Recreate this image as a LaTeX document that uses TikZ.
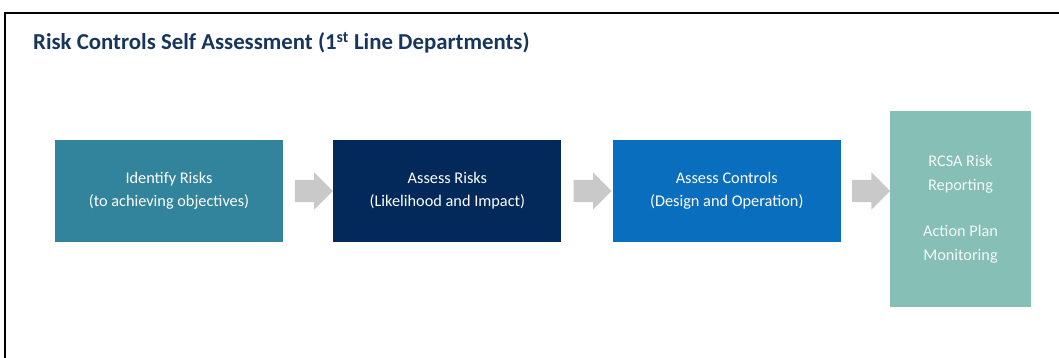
\documentclass[tikz,border=0pt]{standalone}
\usepackage{fontspec}
\setmainfont{Carlito}
\usepackage{xcolor}
\usetikzlibrary{positioning,shapes.arrows,calc}
\definecolor{teal1}{HTML}{31849B}
\definecolor{navy1}{HTML}{02295A}
\definecolor{blue1}{HTML}{0A6EBF}
\definecolor{mint1}{HTML}{86BFB6}
\definecolor{grey1}{HTML}{C9C9C9}
\definecolor{title1}{HTML}{17365D}

\begin{document}
\begin{tikzpicture}[x=1pt,y=1pt,
	stepbox/.style={minimum width=228pt, minimum height=102pt, inner sep=0pt,
		align=center, text=white, font=\fontsize{16.3}{23}\selectfont},
	blockarrow/.style={single arrow, fill=grey1, inner xsep=0pt, inner ysep=11pt,
		single arrow head extend=7.5pt, minimum height=38pt}
]
\useasboundingbox (0,0) rectangle (1059,-358);
\draw[line width=2pt] (5,-358) -- (5,-13) -- (1059,-13);

\node[anchor=base west, inner sep=0pt, text=title1, font=\fontsize{22.8}{26}\selectfont\bfseries] (title) at (33,-50)
	{Risk Controls Self Assessment (1\textsuperscript{st} Line Departments)};

\node[stepbox, fill=teal1] (identify) at (169,-191) {Identify Risks\\(to achieving objectives)};
\node[stepbox, fill=navy1, right=50pt of identify] (assessrisks) {Assess Risks\\(Likelihood and Impact)};
\node[stepbox, fill=blue1, right=51pt of assessrisks] (assesscontrols) {Assess Controls\\(Design and Operation)};
\node[stepbox, fill=mint1, minimum width=141pt, minimum height=196pt, text=white!90!mint1,
	font=\fontsize{16.3}{24}\selectfont] (report) at (960.5,-209)
	{RCSA Risk\\Reporting\\[22pt]Action Plan\\Monitoring};

\node[blockarrow] (arrowa) at ($(identify.east)!0.5!(assessrisks.west)$) {};
\node[blockarrow] (arrowb) at ($(assessrisks.east)!0.5!(assesscontrols.west)$) {};
\node[blockarrow] (arrowc) at ($(assesscontrols.east)!0.5!(report.west|-assesscontrols.east)$) {};
\end{tikzpicture}
\end{document}
